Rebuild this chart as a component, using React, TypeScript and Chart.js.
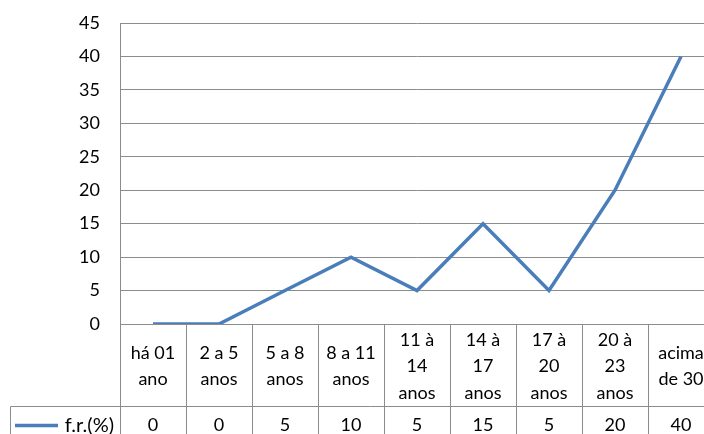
import React, { useEffect, useRef } from "react";
import { Chart, registerables } from "chart.js";

Chart.register(...registerables);

const categoryLines: string[][] = [
  ["há 01", "ano"],
  ["2 a 5", "anos"],
  ["5 a 8", "anos"],
  ["8 a 11", "anos"],
  ["11 à", "14", "anos"],
  ["14 à", "17", "anos"],
  ["17 à", "20", "anos"],
  ["20 à", "23", "anos"],
  ["acima", "de 30"],
];
const categories = categoryLines.map((l) => l.join(" "));
const seriesName = "f.r.(%)";
const seriesValues = [0, 0, 5, 10, 5, 15, 5, 20, 40];
const yMin = 0;
const yMax = 45;
const yStep = 5;

const FONT = "Lato";
const FONT_SIZE = 18;
const GRID = "#8c8c8c";
const LINE = "#4a7ebb";
const TEXT = "#000000";

const tablePlugin = {
  id: "dataTable",
  afterDraw(chart: any) {
    const ctx = chart.ctx as CanvasRenderingContext2D;
    const area = chart.chartArea;
    const xs = chart.scales.x;
    const H = chart.height;
    const W = chart.width;
    const n = categories.length;
    const c0 = xs.getPixelForValue(0);
    const c1 = xs.getPixelForValue(1);
    const bin = c1 - c0;
    const left = c0 - bin / 2;
    const catRowH = 82;
    const rowY = Math.round(area.bottom + catRowH) + 0.5;
    const legendLeft = 10.5;

    ctx.save();
    ctx.strokeStyle = GRID;
    ctx.lineWidth = 1;
    ctx.beginPath();
    for (let i = 0; i <= n; i++) {
      const x = Math.round(left + i * bin) + 0.5;
      ctx.moveTo(x, i === 0 ? area.top : area.bottom);
      ctx.lineTo(x, H);
    }
    ctx.moveTo(legendLeft, rowY);
    ctx.lineTo(W, rowY);
    ctx.moveTo(legendLeft, rowY);
    ctx.lineTo(legendLeft, H);
    ctx.stroke();

    ctx.fillStyle = TEXT;
    ctx.font = `${FONT_SIZE}px ${FONT}`;
    ctx.textAlign = "center";
    ctx.textBaseline = "middle";
    const midY = (area.bottom + rowY) / 2 + 1;
    const lh = 26.5;
    categoryLines.forEach((lines, i) => {
      const cx = xs.getPixelForValue(i);
      const start = midY - ((lines.length - 1) * lh) / 2;
      lines.forEach((t, j) => ctx.fillText(t, cx, start + j * lh));
    });

    const valY = rowY + 19;
    seriesValues.forEach((v, i) => {
      ctx.fillText(String(v), xs.getPixelForValue(i), valY);
    });

    ctx.textAlign = "right";
    ctx.font = `${FONT_SIZE + 2}px ${FONT}`;
    ctx.fillText(seriesName, left - 6, valY);
    ctx.strokeStyle = LINE;
    ctx.lineWidth = 3.5;
    ctx.beginPath();
    ctx.moveTo(15, valY);
    ctx.lineTo(58, valY);
    ctx.stroke();
    ctx.restore();
  },
};

export default function App() {
  const ref = useRef<HTMLCanvasElement | null>(null);
  useEffect(() => {
    if (!ref.current) return;
    const chart = new Chart(ref.current, {
      type: "line",
      data: {
        labels: categories,
        datasets: [
          {
            label: seriesName,
            data: seriesValues,
            borderColor: LINE,
            backgroundColor: LINE,
            borderWidth: 3.5,
            pointRadius: 0,
            tension: 0,
          },
        ],
      },
      options: {
        animation: false,
        responsive: true,
        maintainAspectRatio: false,
        layout: { padding: { left: 0, top: 23, right: 16, bottom: 116 } },
        plugins: { legend: { display: false }, tooltip: { enabled: false } },
        scales: {
          x: {
            type: "category",
            display: false,
            offset: true,
          },
          y: {
            min: yMin,
            max: yMax,
            ticks: {
              stepSize: yStep,
              color: TEXT,
              font: { family: FONT, size: FONT_SIZE },
              padding: 4,
            },
            grid: {
              color: GRID,
              drawTicks: true,
              tickLength: 16,
              tickColor: "rgba(0,0,0,0)",
              lineWidth: 1,
            },
            border: { display: true, color: GRID },
            afterFit(scale: any) {
              scale.width = 120;
            },
          },
        },
      },
      plugins: [tablePlugin],
    });
    return () => chart.destroy();
  }, []);
  return (
    <div style={{ position: "fixed", left: 0, top: 0, width: 704, height: 434, overflow: "hidden", background: "#fff" }}>
      <div style={{ position: "absolute", left: 0, top: 0, width: 730, height: 440 }}>
        <canvas ref={ref} />
      </div>
    </div>
  );
}
